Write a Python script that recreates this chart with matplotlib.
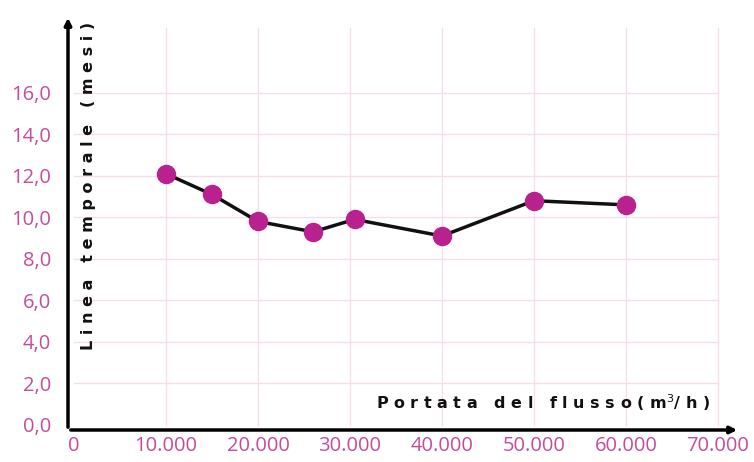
import matplotlib.pyplot as plt

# dati
portata = [10000, 15000, 20000, 26000, 30500, 40000, 50000, 60000]
mesi = [12.1, 11.1, 9.8, 9.3, 9.9, 9.1, 10.8, 10.6]
xticks = [0, 10000, 20000, 30000, 40000, 50000, 60000, 70000]
xlabels = ['0', '10.000', '20.000', '30.000', '40.000', '50.000', '60.000', '70.000']
yticks = [0, 2, 4, 6, 8, 10, 12, 14, 16]
ylabels = ['0,0', '2,0', '4,0', '6,0', '8,0', '10,0', '12,0', '14,0', '16,0']

pink = '#c44d9b'
grid_col = '#f7dcec'

fig = plt.figure(figsize=(7.54, 4.62), dpi=100)
ax = fig.add_axes([68 / 754, 32 / 462, (740 - 68) / 754, (430 - 15) / 462])

ax.set_xlim(-650, 72400)
ax.set_ylim(-0.25, 19.75)

# griglia rosa
for y in yticks[1:]:
    ax.plot([0, 70000], [y, y], color=grid_col, lw=1, zorder=1)
for x in xticks[1:]:
    ax.plot([x, x], [0, 19.1], color=grid_col, lw=1, zorder=1)

ax.plot(portata, mesi, color='#111111', lw=2.5, zorder=2)
ax.plot(portata, mesi, 'o', color='#b8218e', ms=13, zorder=3)

for s in ax.spines.values():
    s.set_visible(False)

ax.set_xticks(xticks)
ax.set_xticklabels(xlabels)
ax.set_yticks(yticks)
ax.set_yticklabels(ylabels)
ax.tick_params(length=0, labelsize=14.5, labelcolor=pink, pad=4)
ax.tick_params(axis='y', pad=12)
for lab in ax.get_xticklabels() + ax.get_yticklabels():
    lab.set_family('Open Sans')

# assi con frecce
ax.annotate('', xy=(1.0, 0.0), xytext=(0.0, 0.0), xycoords='axes fraction',
            arrowprops=dict(arrowstyle='-|>', color='black', lw=2.5, mutation_scale=10))
ax.annotate('', xy=(0.0, 1.0), xytext=(0.0, 0.0), xycoords='axes fraction',
            arrowprops=dict(arrowstyle='-|>', color='black', lw=2.5, mutation_scale=10))

ax.text(0.955, 0.04, 'P o r t a t a   d e l   f l u s s o ( m$^3$/ h )',
        transform=ax.transAxes, ha='right', va='bottom', fontsize=11.5,
        fontweight='bold', color='#111111')
ax.text(0.03, 0.588, 'L i n e a   t e m p o r a l e   ( m e s i )',
        transform=ax.transAxes, ha='center', va='center', rotation=90,
        fontsize=11.5, fontweight='bold', color='#111111')

fig.savefig('out.png', dpi=100)
